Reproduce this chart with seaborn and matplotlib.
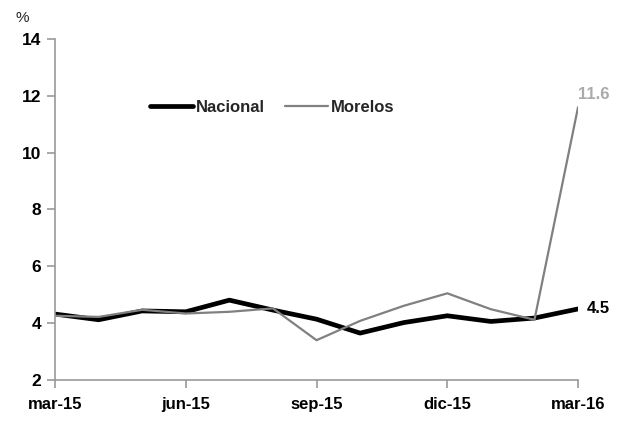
import matplotlib
matplotlib.use("Agg")
import matplotlib.pyplot as plt
import seaborn as sns
import pandas as pd
from matplotlib import font_manager
from matplotlib.lines import Line2D

months = ["mar-15", "abr-15", "may-15", "jun-15", "jul-15", "ago-15", "sep-15",
          "oct-15", "nov-15", "dic-15", "ene-16", "feb-16", "mar-16"]
nacional = [4.32, 4.12, 4.43, 4.40, 4.81, 4.46, 4.14, 3.65, 4.02, 4.26, 4.06, 4.18, 4.5]
morelos = [4.26, 4.22, 4.47, 4.34, 4.40, 4.52, 3.40, 4.08, 4.61, 5.05, 4.49, 4.12, 11.6]
tick_labels = ["mar-15", "jun-15", "sep-15", "dic-15", "mar-16"]

sns.set_theme(style="white")
names = {f.name for f in font_manager.fontManager.ttflist}
fam = "Liberation Sans Narrow" if "Liberation Sans Narrow" in names else "Liberation Sans"
plt.rcParams['font.family'] = [fam, 'DejaVu Sans']

idx = list(range(len(months)))
df = pd.DataFrame({
    "idx": idx * 2,
    "valor": nacional + morelos,
    "serie": ["Nacional"] * len(months) + ["Morelos"] * len(months),
})

fig = plt.figure(figsize=(6.31, 4.21), dpi=100)
ax = fig.add_axes([0.0872, 0.0974, 0.8289, 0.81])
sns.lineplot(data=df, x="idx", y="valor", hue="serie", size="serie",
             palette={"Nacional": "#000000", "Morelos": "#808080"},
             sizes={"Nacional": 3.4, "Morelos": 1.6}, ax=ax, legend=False)

ax.set_xlim(0, 12)
ax.set_ylim(2, 14)
ax.set_yticks([2, 4, 6, 8, 10, 12, 14])
ax.set_xticks([0, 3, 6, 9, 12])
ax.set_xticklabels(tick_labels)
ax.set_xlabel("")
ax.set_ylabel("")
for s in ["top", "right"]:
    ax.spines[s].set_visible(False)
for s in ["left", "bottom"]:
    ax.spines[s].set_color("#999999")
    ax.spines[s].set_linewidth(1.2)
ax.tick_params(axis="y", direction="out", length=6, width=1.2, color="#999999",
               labelsize=12.5, pad=4, left=True)
ax.tick_params(axis="x", direction="out", length=6, width=1.2, color="#999999",
               labelsize=12, pad=6, bottom=True)
for lab in ax.get_xticklabels() + ax.get_yticklabels():
    lab.set_fontweight("bold")
    lab.set_color("#000000")

handles = [Line2D([], [], color="#000000", lw=3.4), Line2D([], [], color="#808080", lw=1.6)]
leg = ax.legend(handles, ["Nacional", "Morelos"], loc="center", bbox_to_anchor=(0.415, 0.80),
                ncol=2, frameon=False, handlelength=2.6, handletextpad=0.15, columnspacing=1.2,
                prop={"weight": "bold", "size": 12})

ax.text(12.2, nacional[-1], f"{nacional[-1]:.1f}", fontsize=12, fontweight="bold",
        color="#000000", va="center", ha="left", clip_on=False)
ax.text(12.0, morelos[-1] + 0.2, f"{morelos[-1]:.1f}", fontsize=12, fontweight="bold",
        color="#aaaaaa", va="bottom", ha="left", clip_on=False)
fig.text(15 / 631, 1 - 18 / 421, "%", fontsize=11, va="center", ha="left")

fig.savefig("out.png", dpi=100)
